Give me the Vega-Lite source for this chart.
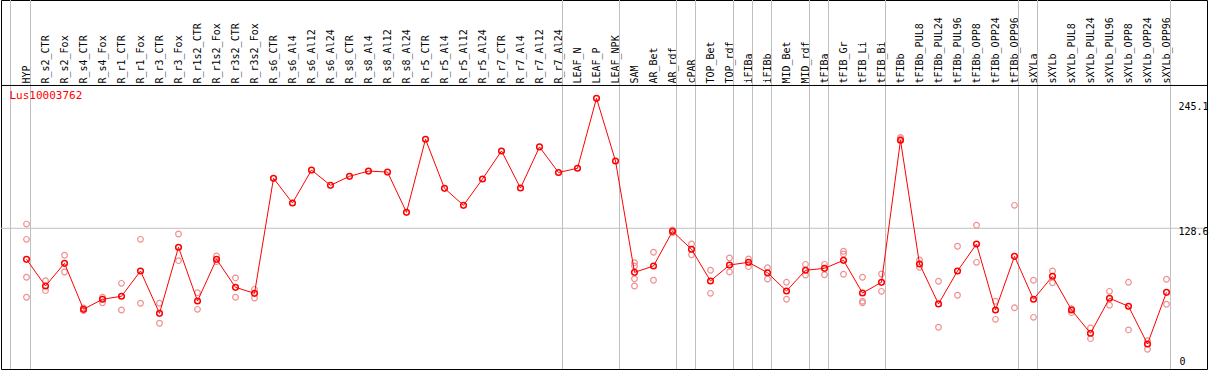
{
  "$schema": "https://vega.github.io/schema/vega-lite/v6.json",
  "autosize": "none",
  "width": 1206,
  "height": 369,
  "padding": {"left": 1, "right": 2, "top": 0, "bottom": 1},
  "background": "white",
  "config": {"view": {"stroke": "black", "strokeWidth": 1}},
  "datasets": {
    "means": [
      {"sample": "HYP", "value": 100.8},
      {"sample": "R_s2_CTR", "value": 76.9},
      {"sample": "R_s2_Fox", "value": 97.2},
      {"sample": "R_s4_CTR", "value": 56.0},
      {"sample": "R_s4_Fox", "value": 65.0},
      {"sample": "R_r1_CTR", "value": 67.7},
      {"sample": "R_r1_Fox", "value": 90.3},
      {"sample": "R_r3_CTR", "value": 52.4},
      {"sample": "R_r3_Fox", "value": 111.6},
      {"sample": "R_r1s2_CTR", "value": 63.4},
      {"sample": "R_r1s2_Fox", "value": 100.8},
      {"sample": "R_r3s2_CTR", "value": 75.7},
      {"sample": "R_r3s2_Fox", "value": 70.3},
      {"sample": "R_s6_CTR", "value": 173.4},
      {"sample": "R_s6_Al4", "value": 151.3},
      {"sample": "R_s6_Al12", "value": 180.8},
      {"sample": "R_s6_Al24", "value": 167.1},
      {"sample": "R_s8_CTR", "value": 175.2},
      {"sample": "R_s8_Al4", "value": 179.9},
      {"sample": "R_s8_Al12", "value": 179.0},
      {"sample": "R_s8_Al24", "value": 142.9},
      {"sample": "R_r5_CTR", "value": 208.4},
      {"sample": "R_r5_Al4", "value": 164.4},
      {"sample": "R_r5_Al12", "value": 149.2},
      {"sample": "R_r5_Al24", "value": 172.8},
      {"sample": "R_r7_CTR", "value": 197.9},
      {"sample": "R_r7_Al4", "value": 164.7},
      {"sample": "R_r7_Al12", "value": 201.5},
      {"sample": "R_r7_Al24", "value": 178.6},
      {"sample": "LEAF_N", "value": 182.4},
      {"sample": "LEAF_P", "value": 245.1},
      {"sample": "LEAF_NPK", "value": 188.9},
      {"sample": "SAM", "value": 89.1},
      {"sample": "AR_Bet", "value": 94.8},
      {"sample": "AR_rdf", "value": 125.9},
      {"sample": "cPAR", "value": 109.8},
      {"sample": "TOP_Bet", "value": 81.4},
      {"sample": "TOP_rdf", "value": 95.7},
      {"sample": "iFIBa", "value": 98.1},
      {"sample": "iFIBb", "value": 88.8},
      {"sample": "MID_Bet", "value": 72.4},
      {"sample": "MID_rdf", "value": 91.0},
      {"sample": "tFIBa", "value": 92.7},
      {"sample": "tFIB_Gr", "value": 99.9},
      {"sample": "tFIB_Li", "value": 70.6},
      {"sample": "tFIB_Bi", "value": 80.2},
      {"sample": "tFIBb", "value": 207.5},
      {"sample": "tFIBb_PUL8", "value": 96.6},
      {"sample": "tFIBb_PUL24", "value": 60.8},
      {"sample": "tFIBb_PUL96", "value": 90.3},
      {"sample": "tFIBb_OPP8", "value": 114.5},
      {"sample": "tFIBb_OPP24", "value": 55.4},
      {"sample": "tFIBb_OPP96", "value": 103.5},
      {"sample": "sXYLa", "value": 65.0},
      {"sample": "sXYLb", "value": 85.6},
      {"sample": "sXYLb_PUL8", "value": 55.4},
      {"sample": "sXYLb_PUL24", "value": 34.5},
      {"sample": "sXYLb_PUL96", "value": 65.9},
      {"sample": "sXYLb_OPP8", "value": 58.7},
      {"sample": "sXYLb_OPP24", "value": 24.9},
      {"sample": "sXYLb_OPP96", "value": 71.2}
    ],
    "reps": [
      {"sample": "HYP", "value": 132.4}, {"sample": "HYP", "value": 118.7}, {"sample": "HYP", "value": 84.7}, {"sample": "HYP", "value": 66.8},
      {"sample": "R_s2_CTR", "value": 81.6}, {"sample": "R_s2_CTR", "value": 72.7},
      {"sample": "R_s2_Fox", "value": 104.4}, {"sample": "R_s2_Fox", "value": 89.4},
      {"sample": "R_s4_CTR", "value": 57.2}, {"sample": "R_s4_CTR", "value": 54.8},
      {"sample": "R_s4_Fox", "value": 66.8}, {"sample": "R_s4_Fox", "value": 61.9},
      {"sample": "R_r1_CTR", "value": 79.3}, {"sample": "R_r1_CTR", "value": 55.4},
      {"sample": "R_r1_Fox", "value": 118.7}, {"sample": "R_r1_Fox", "value": 61.4},
      {"sample": "R_r3_CTR", "value": 61.4}, {"sample": "R_r3_CTR", "value": 43.5},
      {"sample": "R_r3_Fox", "value": 123.5}, {"sample": "R_r3_Fox", "value": 99.6},
      {"sample": "R_r1s2_CTR", "value": 70.9}, {"sample": "R_r1s2_CTR", "value": 56.0},
      {"sample": "R_r1s2_Fox", "value": 103.8}, {"sample": "R_r1s2_Fox", "value": 98.7},
      {"sample": "R_r3s2_CTR", "value": 84.1}, {"sample": "R_r3s2_CTR", "value": 66.8},
      {"sample": "R_r3s2_Fox", "value": 73.9}, {"sample": "R_r3s2_Fox", "value": 66.1},
      {"sample": "SAM", "value": 97.8}, {"sample": "SAM", "value": 94.8}, {"sample": "SAM", "value": 83.4}, {"sample": "SAM", "value": 76.9},
      {"sample": "AR_Bet", "value": 107.1}, {"sample": "AR_Bet", "value": 82.0},
      {"sample": "AR_rdf", "value": 127.1}, {"sample": "AR_rdf", "value": 124.7},
      {"sample": "cPAR", "value": 114.5}, {"sample": "cPAR", "value": 104.9},
      {"sample": "TOP_Bet", "value": 91.0}, {"sample": "TOP_Bet", "value": 70.3},
      {"sample": "TOP_rdf", "value": 102.0}, {"sample": "TOP_rdf", "value": 89.4},
      {"sample": "iFIBa", "value": 101.1}, {"sample": "iFIBa", "value": 94.2},
      {"sample": "iFIBb", "value": 93.3}, {"sample": "iFIBb", "value": 83.2},
      {"sample": "MID_Bet", "value": 80.2}, {"sample": "MID_Bet", "value": 65.0},
      {"sample": "MID_rdf", "value": 96.3}, {"sample": "MID_rdf", "value": 86.7},
      {"sample": "tFIBa", "value": 96.3}, {"sample": "tFIBa", "value": 87.0},
      {"sample": "tFIB_Gr", "value": 108.0}, {"sample": "tFIB_Gr", "value": 105.6}, {"sample": "tFIB_Gr", "value": 87.4},
      {"sample": "tFIB_Li", "value": 84.7}, {"sample": "tFIB_Li", "value": 63.2}, {"sample": "tFIB_Li", "value": 61.9},
      {"sample": "tFIB_Bi", "value": 87.6}, {"sample": "tFIB_Bi", "value": 72.1},
      {"sample": "tFIBb", "value": 210.1}, {"sample": "tFIBb", "value": 208.6},
      {"sample": "tFIBb_PUL8", "value": 100.2}, {"sample": "tFIBb_PUL8", "value": 93.6},
      {"sample": "tFIBb_PUL24", "value": 81.1}, {"sample": "tFIBb_PUL24", "value": 39.9},
      {"sample": "tFIBb_PUL96", "value": 112.5}, {"sample": "tFIBb_PUL96", "value": 68.6},
      {"sample": "tFIBb_OPP8", "value": 131.3}, {"sample": "tFIBb_OPP8", "value": 98.1},
      {"sample": "tFIBb_OPP24", "value": 63.2}, {"sample": "tFIBb_OPP24", "value": 47.0},
      {"sample": "tFIBb_OPP96", "value": 149.2}, {"sample": "tFIBb_OPP96", "value": 57.4},
      {"sample": "sXYLa", "value": 82.0}, {"sample": "sXYLa", "value": 48.8},
      {"sample": "sXYLb", "value": 90.3}, {"sample": "sXYLb", "value": 79.8},
      {"sample": "sXYLb_PUL8", "value": 56.5}, {"sample": "sXYLb_PUL8", "value": 53.0},
      {"sample": "sXYLb_PUL24", "value": 39.3}, {"sample": "sXYLb_PUL24", "value": 29.7},
      {"sample": "sXYLb_PUL96", "value": 72.1}, {"sample": "sXYLb_PUL96", "value": 59.6},
      {"sample": "sXYLb_OPP8", "value": 80.2}, {"sample": "sXYLb_OPP8", "value": 37.5},
      {"sample": "sXYLb_OPP24", "value": 27.9}, {"sample": "sXYLb_OPP24", "value": 20.2},
      {"sample": "sXYLb_OPP96", "value": 82.9}, {"sample": "sXYLb_OPP96", "value": 60.5}
    ],
    "seps": [
      {"sample": "HYP"}, {"sample": "R_r7_Al24"}, {"sample": "LEAF_NPK"}, {"sample": "AR_rdf"},
      {"sample": "cPAR"}, {"sample": "TOP_rdf"}, {"sample": "iFIBa"}, {"sample": "iFIBb"},
      {"sample": "MID_rdf"}, {"sample": "tFIBa"}, {"sample": "tFIB_Bi"}, {"sample": "tFIBb_OPP96"},
      {"sample": "sXYLa"}, {"sample": "sXYLb_OPP96"}
    ],
    "first": [{"sample": "HYP"}]
  },
  "encoding": {
    "x": {
      "field": "sample",
      "type": "ordinal",
      "scale": {
        "type": "point",
        "range": [25.5, 1165.5],
        "padding": 0,
        "domain": ["HYP","R_s2_CTR","R_s2_Fox","R_s4_CTR","R_s4_Fox","R_r1_CTR","R_r1_Fox","R_r3_CTR","R_r3_Fox","R_r1s2_CTR","R_r1s2_Fox","R_r3s2_CTR","R_r3s2_Fox","R_s6_CTR","R_s6_Al4","R_s6_Al12","R_s6_Al24","R_s8_CTR","R_s8_Al4","R_s8_Al12","R_s8_Al24","R_r5_CTR","R_r5_Al4","R_r5_Al12","R_r5_Al24","R_r7_CTR","R_r7_Al4","R_r7_Al12","R_r7_Al24","LEAF_N","LEAF_P","LEAF_NPK","SAM","AR_Bet","AR_rdf","cPAR","TOP_Bet","TOP_rdf","iFIBa","iFIBb","MID_Bet","MID_rdf","tFIBa","tFIB_Gr","tFIB_Li","tFIB_Bi","tFIBb","tFIBb_PUL8","tFIBb_PUL24","tFIBb_PUL96","tFIBb_OPP8","tFIBb_OPP24","tFIBb_OPP96","sXYLa","sXYLb","sXYLb_PUL8","sXYLb_PUL24","sXYLb_PUL96","sXYLb_OPP8","sXYLb_OPP24","sXYLb_OPP96"]
      },
      "axis": {
        "orient": "top",
        "title": null,
        "domain": false,
        "ticks": false,
        "tickSize": 0,
        "grid": false,
        "labelAngle": -90,
        "labelAlign": "left",
        "labelBaseline": "middle",
        "labelPadding": -83,
        "labelOverlap": false,
        "labelFont": "DejaVu Sans Mono",
        "labelFontSize": 10,
        "labelColor": "black"
      }
    }
  },
  "layer": [
    {
      "data": {"name": "seps"},
      "mark": {"type": "rule", "color": "#c0c0c0", "strokeWidth": 1, "xOffset": 4},
      "encoding": {}
    },
    {
      "data": {"name": "first"},
      "mark": {"type": "rule", "color": "#c0c0c0", "strokeWidth": 1, "xOffset": -16},
      "encoding": {}
    },
    {
      "data": {"name": "first"},
      "mark": {"type": "rule", "color": "#c0c0c0", "strokeWidth": 1},
      "encoding": {"x": null, "y": {"datum": 128.6, "type": "quantitative", "scale": {"domain": [2.5, 333.2], "zero": false, "nice": false}, "axis": null}}
    },
    {
      "data": {"name": "first"},
      "mark": {"type": "rule", "color": "black", "strokeWidth": 1},
      "encoding": {"x": null, "y": {"datum": 256.6, "type": "quantitative"}}
    },
    {
      "data": {"name": "reps"},
      "mark": {"type": "point", "shape": "circle", "filled": false, "color": "#f09090", "size": 32, "strokeWidth": 1.2, "opacity": 1},
      "encoding": {"y": {"field": "value", "type": "quantitative"}}
    },
    {
      "data": {"name": "means"},
      "mark": {"type": "line", "color": "#ff0000", "strokeWidth": 1},
      "encoding": {"y": {"field": "value", "type": "quantitative"}, "order": {"value": null}}
    },
    {
      "data": {"name": "means"},
      "mark": {"type": "point", "shape": "circle", "filled": false, "color": "#ff0000", "size": 32, "strokeWidth": 1.5, "opacity": 1},
      "encoding": {"y": {"field": "value", "type": "quantitative"}}
    },
    {
      "data": {"name": "first"},
      "mark": {"type": "text", "color": "#ff0000", "font": "DejaVu Sans Mono", "fontSize": 11, "align": "left", "baseline": "middle", "dx": -17},
      "encoding": {"y": {"datum": 247.2, "type": "quantitative"}, "text": {"value": "Lus10003762"}}
    },
    {
      "data": {"name": "first"},
      "mark": {"type": "text", "color": "black", "font": "DejaVu Sans Mono", "fontSize": 10, "align": "left", "baseline": "middle", "dx": 1152, "dy": 9},
      "encoding": {"y": {"datum": 245.1, "type": "quantitative"}, "text": {"value": "245.1"}}
    },
    {
      "data": {"name": "first"},
      "mark": {"type": "text", "color": "black", "font": "DejaVu Sans Mono", "fontSize": 10, "align": "left", "baseline": "middle", "dx": 1152, "dy": 4},
      "encoding": {"y": {"datum": 128.6, "type": "quantitative"}, "text": {"value": "128.6"}}
    },
    {
      "data": {"name": "first"},
      "mark": {"type": "text", "color": "black", "font": "DejaVu Sans Mono", "fontSize": 10, "align": "left", "baseline": "middle", "dx": 1153, "dy": -10},
      "encoding": {"y": {"datum": 0, "type": "quantitative"}, "text": {"value": "0"}}
    }
  ]
}
